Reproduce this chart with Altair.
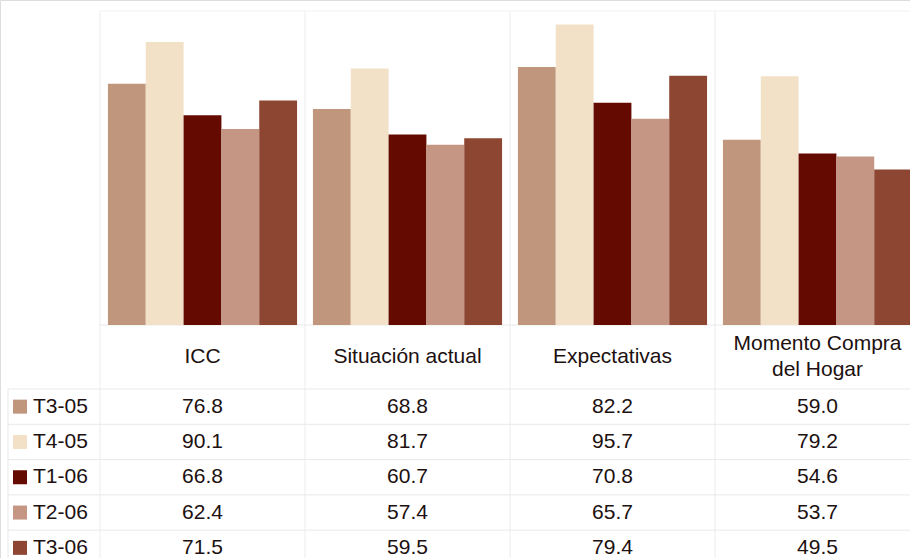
import altair as alt
import pandas as pd

categories = ["ICC", "Situación actual", "Expectativas", "Momento Compra del Hogar"]
header_labels = ["ICC", "Situación actual", "Expectativas", "Momento Compra\ndel Hogar"]
series = ["T3-05", "T4-05", "T1-06", "T2-06", "T3-06"]
colors = ["#C0967C", "#F2E1C6", "#640A00", "#C49683", "#8C4632"]

t3_05 = [76.8, 68.8, 82.2, 59.0]
t4_05 = [90.1, 81.7, 95.7, 79.2]
t1_06 = [66.8, 60.7, 70.8, 54.6]
t2_06 = [62.4, 57.4, 65.7, 53.7]
t3_06 = [71.5, 59.5, 79.4, 49.5]

values = [t3_05, t4_05, t1_06, t2_06, t3_06]
rows = []
for s, vals in zip(series, values):
    for c, v in zip(categories, vals):
        rows.append({"cat": c, "series": s, "value": v})
df = pd.DataFrame(rows)
hdr = pd.DataFrame({"cat": categories, "label": header_labels})
hdr["multi"] = hdr["label"].str.contains("\n")
ser = pd.DataFrame({"series": series})

FONT = "Liberation Sans"
TXT = "#201010"
FS = 21
LINE = "#e9e9e9"

xs = alt.Scale(type="band", domain=categories, range=[100, 920], paddingInner=0, paddingOuter=0)
ys = alt.Scale(domain=[0, 100], range=[325, 11], nice=False, zero=True)
rs = alt.Scale(type="band", domain=series, range=[389, 565.5], paddingInner=0, paddingOuter=0)
cs = alt.Scale(domain=series, range=colors)

bars = alt.Chart(df).mark_bar(strokeWidth=0).encode(
    x=alt.X("cat:N", scale=xs, axis=None),
    xOffset=alt.XOffset("series:N", scale=alt.Scale(domain=series, paddingInner=0, paddingOuter=0.21)),
    y=alt.Y("value:Q", scale=ys, axis=None),
    color=alt.Color("series:N", scale=cs, legend=None),
)

vlines = alt.Chart(hdr).mark_rule(color="#eeebeb", strokeWidth=1).encode(
    x=alt.X("cat:N", scale=xs, axis=None, bandPosition=0),
    y=alt.Y(datum=100, scale=ys, axis=None),
    y2=alt.value(558),
)
top_line = alt.Chart(hdr.head(1)).mark_rule(color="#f3f1f1", strokeWidth=1).encode(
    y=alt.Y(datum=100, scale=ys, axis=None),
    x=alt.value(100), x2=alt.value(910),
)
base_line = alt.Chart(hdr.head(1)).mark_rule(color=LINE, strokeWidth=1).encode(
    y=alt.Y(datum=0, scale=ys, axis=None),
    x=alt.value(100), x2=alt.value(910),
)

row_lines = alt.Chart(ser).mark_rule(color=LINE, strokeWidth=1).encode(
    y=alt.Y("series:N", scale=rs, axis=None, bandPosition=0),
    x=alt.value(8), x2=alt.value(910),
)
left_line = alt.Chart(ser.head(1)).mark_rule(color=LINE, strokeWidth=1).encode(
    y=alt.Y("series:N", scale=rs, axis=None, bandPosition=0),
    y2=alt.value(558),
    x=alt.value(8),
)

header_single = alt.Chart(hdr).transform_filter("!datum.multi").mark_text(
    font=FONT, fontSize=FS, color=TXT, align="center", baseline="middle",
).encode(
    x=alt.X("cat:N", scale=xs, axis=None),
    y=alt.value(357),
    text="label:N",
)
header_multi = alt.Chart(hdr).transform_filter("datum.multi").mark_text(
    font=FONT, fontSize=FS, color=TXT, align="center", baseline="middle",
    lineBreak="\n", lineHeight=26, dy=-13,
).encode(
    x=alt.X("cat:N", scale=xs, axis=None),
    y=alt.value(357),
    text="label:N",
)

cells = alt.Chart(df).mark_text(
    font=FONT, fontSize=FS, color=TXT, align="center", baseline="middle",
).encode(
    x=alt.X("cat:N", scale=xs, axis=None),
    y=alt.Y("series:N", scale=rs, axis=None),
    text=alt.Text("value:Q", format=".1f"),
)

squares = alt.Chart(ser).mark_square(size=196, opacity=1, strokeWidth=0).encode(
    x=alt.value(20),
    y=alt.Y("series:N", scale=rs, axis=None),
    color=alt.Color("series:N", scale=cs, legend=None),
)
row_labels = alt.Chart(ser).mark_text(
    font=FONT, fontSize=FS, color=TXT, align="left", baseline="middle",
).encode(
    x=alt.value(33),
    y=alt.Y("series:N", scale=rs, axis=None),
    text="series:N",
)

table = alt.layer(row_lines, left_line, header_single, header_multi, cells, squares, row_labels)
plot = alt.layer(vlines, top_line, base_line, bars)

chart = alt.layer(plot, table).resolve_scale(y="independent").properties(
    width=910, height=558, autosize="none", padding=0,
).configure_view(stroke=None).configure(background="white")

chart.save("out.html", embed_options={"renderer": "svg", "actions": False})
